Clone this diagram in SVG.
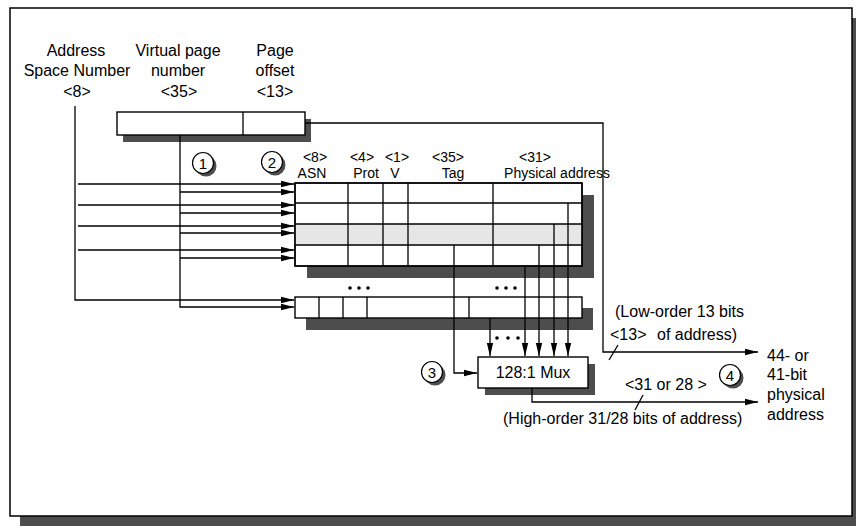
<svg xmlns="http://www.w3.org/2000/svg" width="856" height="532" viewBox="0 0 856 532">
<style>
text{font-family:"Liberation Sans",Arial,sans-serif;font-size:16px;fill:#000}
.c{text-anchor:middle}
.h{font-size:14px;text-anchor:middle}
.box{fill:#fff;stroke:#000;stroke-width:1.4}
.sh{fill:#4d4d4d;stroke:none}
.ln{fill:none;stroke:#000;stroke-width:1.3}
.num{font-size:15px;text-anchor:middle}
</style>
<defs>
<marker id="ah" markerUnits="userSpaceOnUse" markerWidth="14" markerHeight="8" refX="13" refY="4" orient="auto">
<path d="M0,0.8 L13,4 L0,7.2 Z" fill="#000"/>
</marker>
</defs>
<g id="frame">
<rect class="sh" x="20" y="18" width="842" height="508"/>
<rect x="10" y="8" width="842" height="508" fill="#fff" stroke="#000" stroke-width="1.5"/>
</g>
<g id="header-labels">
<text class="c" x="76" y="56">Address</text>
<text class="c" x="77" y="76">Space Number</text>
<text class="c" x="77" y="97">&lt;8&gt;</text>
<text class="c" x="178" y="56">Virtual page</text>
<text class="c" x="178" y="76">number</text>
<text class="c" x="179" y="97">&lt;35&gt;</text>
<text class="c" x="275" y="56">Page</text>
<text class="c" x="275" y="76">offset</text>
<text class="c" x="275" y="97">&lt;13&gt;</text>
</g>
<g id="virtual-address">
<rect class="sh" x="123" y="119" width="188" height="23"/>
<rect class="box" x="117" y="112" width="188" height="23"/>
<line class="ln" x1="243" y1="112" x2="243" y2="135"/>
</g>
<g id="tlb">
<rect class="sh" x="307" y="195" width="287" height="83"/>
<rect class="box" x="295" y="183" width="287" height="83"/>
<rect x="295.7" y="224" width="285.6" height="21" fill="#e6e6e6"/>
<path class="ln" d="M295,203H582M295,224H582M295,245H582M348,183V266M383,183V266M408,183V266M493,183V266"/>
<rect x="295" y="183" width="287" height="83" fill="none" stroke="#000" stroke-width="1.4"/>
<text class="h" x="315" y="162">&lt;8&gt;</text>
<text class="h" x="312" y="178">ASN</text>
<text class="h" x="362" y="162">&lt;4&gt;</text>
<text class="h" x="366" y="178">Prot</text>
<text class="h" x="397" y="162">&lt;1&gt;</text>
<text class="h" x="395" y="178">V</text>
<text class="h" x="448" y="162">&lt;35&gt;</text>
<text class="h" x="453" y="178">Tag</text>
<text class="h" x="535" y="162">&lt;31&gt;</text>
<text class="h" x="557" y="178">Physical address</text>
</g>
<g id="tlb-last">
<rect class="sh" x="306" y="308" width="287" height="22"/>
<rect class="box" x="295" y="297" width="287" height="21"/>
<path class="ln" d="M319,297V318M343,297V318M367,297V318M469,297V318"/>
<g fill="#000">
<circle cx="350" cy="288" r="1.8"/><circle cx="359" cy="288" r="1.8"/><circle cx="368" cy="288" r="1.8"/>
<circle cx="497" cy="288" r="1.8"/><circle cx="506" cy="288" r="1.8"/><circle cx="515" cy="288" r="1.8"/>
<circle cx="497" cy="338" r="1.8"/><circle cx="508" cy="338" r="1.8"/><circle cx="518" cy="338" r="1.8"/>
</g>
</g>
<g id="mux">
<rect class="sh" x="485" y="364" width="110" height="31"/>
<rect class="box" x="478" y="357" width="110" height="31"/>
<text class="c" x="533" y="378">128:1 Mux</text>
</g>
<g id="step1">
<circle cx="206" cy="166" r="10.5" fill="#4d4d4d"/>
<circle cx="203" cy="163" r="10.5" fill="#fff" stroke="#000" stroke-width="1.2"/>
<text class="num" x="203" y="168.5">1</text>
</g>
<g id="step2">
<circle cx="275" cy="165" r="10.5" fill="#4d4d4d"/>
<circle cx="272" cy="162" r="10.5" fill="#fff" stroke="#000" stroke-width="1.2"/>
<text class="num" x="272" y="167.5">2</text>
</g>
<g id="step3">
<circle cx="435" cy="375" r="10.5" fill="#4d4d4d"/>
<circle cx="432" cy="372" r="10.5" fill="#fff" stroke="#000" stroke-width="1.2"/>
<text class="num" x="432" y="377.5">3</text>
</g>
<g id="step4">
<circle cx="733" cy="378" r="10.5" fill="#4d4d4d"/>
<circle cx="730" cy="375" r="10.5" fill="#fff" stroke="#000" stroke-width="1.2"/>
<text class="num" x="730" y="380.5">4</text>
</g>
<g id="connectors">
<path class="ln" d="M75,106V300H294" marker-end="url(#ah)"/>
<path class="ln" d="M78,184H294" marker-end="url(#ah)"/>
<path class="ln" d="M78,205H294" marker-end="url(#ah)"/>
<path class="ln" d="M78,226H294" marker-end="url(#ah)"/>
<path class="ln" d="M78,250H294" marker-end="url(#ah)"/>
<path class="ln" d="M180,135V307H294" marker-end="url(#ah)"/>
<path class="ln" d="M180,192H294" marker-end="url(#ah)"/>
<path class="ln" d="M180,213H294" marker-end="url(#ah)"/>
<path class="ln" d="M180,233H294" marker-end="url(#ah)"/>
<path class="ln" d="M180,258H294" marker-end="url(#ah)"/>
<path class="ln" d="M305,123H603V352H758" marker-end="url(#ah)"/>
<path class="ln" d="M454,245V373H477" marker-end="url(#ah)"/>
<path class="ln" d="M568,203V356" marker-end="url(#ah)"/>
<path class="ln" d="M554,224V356" marker-end="url(#ah)"/>
<path class="ln" d="M539,245V356" marker-end="url(#ah)"/>
<path class="ln" d="M525,266V356" marker-end="url(#ah)"/>
<path class="ln" d="M490,318V356" marker-end="url(#ah)"/>
<path class="ln" d="M532,388V402H758" marker-end="url(#ah)"/>
<path class="ln" d="M618,345L609,360"/>
<path class="ln" d="M643,395L635,410"/>
</g>
<g id="output-labels">
<text x="615" y="317">(Low-order 13 bits</text>
<text x="610" y="340">&lt;13&gt;</text>
<text x="657" y="340">of address)</text>
<text x="625" y="390">&lt;31 or 28 &gt;</text>
<text x="503" y="424">(High-order 31/28 bits of address)</text>
<text x="767" y="361">44- or</text>
<text x="767" y="380">41-bit</text>
<text x="767" y="400">physical</text>
<text x="767" y="420">address</text>
</g>
</svg>
